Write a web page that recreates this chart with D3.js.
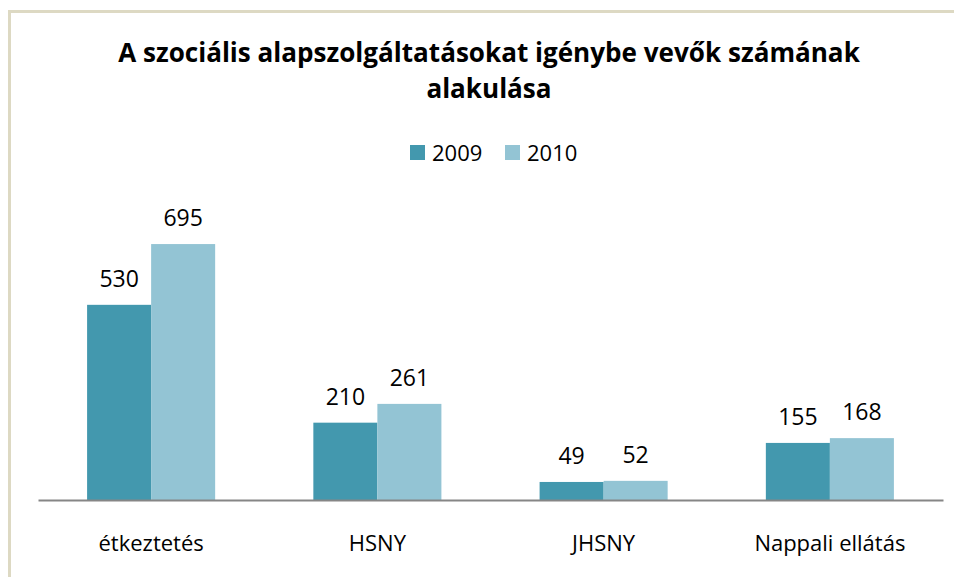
<!DOCTYPE html>
<html>
<head>
<meta charset="utf-8">
<script src="https://cdn.jsdelivr.net/npm/d3@7"></script>
<style>
  body { margin: 0; background: #fff; }
</style>
</head>
<body>
<svg id="chart"></svg>
<script>
const categories = ["étkeztetés", "HSNY", "JHSNY", "Nappali ellátás"];
const seriesNames = ["2009", "2010"];
const values2009 = [530, 210, 49, 155];
const values2010 = [695, 261, 52, 168];
const titleLines = ["A szociális alapszolgáltatásokat igénybe vevők számának", "alakulása"];

const width = 954, height = 577;
const colors = {"2009": "#4398ae", "2010": "#93c4d4"};
const font = "'Open Sans', 'DejaVu Sans', sans-serif";

const svg = d3.select("#chart")
  .attr("width", width)
  .attr("height", height);

// outer frame
svg.append("rect")
  .attr("x", 9.5).attr("y", 11.5)
  .attr("width", width).attr("height", height + 10)
  .attr("fill", "none")
  .attr("stroke", "#ddd9c3")
  .attr("stroke-width", 3);

// title
svg.selectAll("text.title")
  .data(titleLines)
  .enter().append("text")
  .attr("class", "title")
  .attr("x", 489)
  .attr("y", (d, i) => 62 + i * 36)
  .attr("text-anchor", "middle")
  .style("font-family", font)
  .style("font-weight", "bold")
  .style("font-size", "26px")
  .style("fill", "#000")
  .text(d => d);

// shrink title to the width it has in the reference
const t0 = svg.select("text.title").node();
const fitSize = 26 * 742 / t0.getComputedTextLength();
svg.selectAll("text.title").style("font-size", fitSize + "px");

const table = categories.map((c, i) => ({cat: c, "2009": values2009[i], "2010": values2010[i]}));

const x = d3.scaleBand()
  .domain(categories)
  .range([38, 943])
  .paddingInner(0.434)
  .paddingOuter(0.217);
const xs = d3.scaleBand()
  .domain(seriesNames)
  .range([0, x.bandwidth()]);
const y = d3.scaleLinear()
  .domain([0, 800])
  .range([500, 205.4]);

// legend
const legend = svg.append("g").attr("class", "legend");
const legendX = [410, 505];
seriesNames.forEach((s, i) => {
  legend.append("rect")
    .attr("x", legendX[i]).attr("y", 145)
    .attr("width", 15).attr("height", 15)
    .attr("fill", colors[s]);
  legend.append("text")
    .attr("x", legendX[i] + 22).attr("y", 161)
    .style("font-family", font)
    .style("font-size", "22px")
    .style("fill", "#000")
    .text(s);
});

// bars
const groups = svg.selectAll("g.cat")
  .data(table)
  .enter().append("g")
  .attr("class", "cat")
  .attr("transform", d => `translate(${x(d.cat)},0)`);

groups.selectAll("rect")
  .data(d => seriesNames.map(s => ({s: s, v: d[s]})))
  .enter().append("rect")
  .attr("x", d => xs(d.s))
  .attr("y", d => y(d.v))
  .attr("width", xs.bandwidth())
  .attr("height", d => y(0) - y(d.v))
  .attr("fill", d => colors[d.s]);

groups.selectAll("text.value")
  .data(d => seriesNames.map(s => ({s: s, v: d[s]})))
  .enter().append("text")
  .attr("class", "value")
  .attr("x", d => xs(d.s) + xs.bandwidth() / 2)
  .attr("y", d => y(d.v) - 18)
  .attr("text-anchor", "middle")
  .style("font-family", font)
  .style("font-size", "23px")
  .style("fill", "#000")
  .text(d => d.v);

// baseline axis
const xAxis = svg.append("g")
  .attr("transform", `translate(0,${y(0)})`)
  .call(d3.axisBottom(x).tickSize(0).tickPadding(35));
xAxis.select(".domain")
  .attr("stroke", "#868686")
  .attr("stroke-width", 2);
xAxis.selectAll(".tick text")
  .style("font-family", font)
  .style("font-size", "22px")
  .style("fill", "#000");
</script>
</body>
</html>
